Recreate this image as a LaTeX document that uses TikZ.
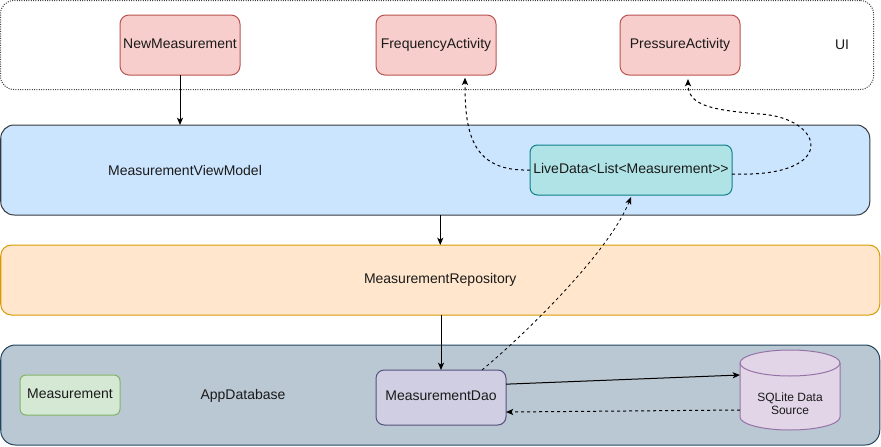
\documentclass[tikz,border=0pt]{standalone}
\usepackage{fontspec}
\setmainfont{Liberation Sans}
\usetikzlibrary{arrows.meta,calc}
\definecolor{redF}{HTML}{F8CECC}\definecolor{redS}{HTML}{B85450}
\definecolor{blueF}{HTML}{CCE5FF}\definecolor{blueS}{HTML}{36393D}
\definecolor{tealF}{HTML}{B0E3E6}\definecolor{tealS}{HTML}{0E8088}
\definecolor{orangeF}{HTML}{FFE6CC}\definecolor{orangeS}{HTML}{D79B00}
\definecolor{slateF}{HTML}{BAC8D3}\definecolor{slateS}{HTML}{23445D}
\definecolor{greenF}{HTML}{D5E8D4}\definecolor{greenS}{HTML}{82B366}
\definecolor{purpleF}{HTML}{D0CEE2}\definecolor{purpleS}{HTML}{56517E}
\definecolor{lilacF}{HTML}{E1D5E7}\definecolor{lilacS}{HTML}{9673A6}
\definecolor{txt}{HTML}{1A1A1A}
\tikzset{
  box/.style={rectangle, line width=0.75pt, inner sep=0pt, outer sep=0pt, text=txt,
    text height=7.6pt, text depth=2.4pt,
    font=\fontsize{10.5pt}{12.6pt}\selectfont},
  lbl/.style={inner sep=0pt, text=txt, text height=7.6pt, text depth=2.4pt,
    font=\fontsize{10.5pt}{12.6pt}\selectfont},
  multilbl/.style={inner sep=0pt, text=txt, align=center, font=\fontsize{9pt}{10pt}\selectfont},
  tip/.style={-{Stealth[length=5.5pt,width=4.6pt,inset=1.4pt]}},
  solidcon/.style={tip, line width=0.75pt, black},
  dashcon/.style={tip, line width=0.75pt, black, dash pattern=on 2.25pt off 2.25pt},
}
\begin{document}
\begin{tikzpicture}[x=0.75pt,y=-0.75pt]
\useasboundingbox (0,0) rectangle (881,446);
% containers
\node[box, draw=black!75, fill=white, densely dotted, rounded corners=10pt,
  minimum width=654.75pt, minimum height=66.75pt] (ui) at (437,45) {};
\node[lbl] (uilbl) at (842,46) {UI};
\node[box, draw=blueS, fill=blueF, rounded corners=10pt,
  minimum width=651.75pt, minimum height=67.5pt] (vm) at (435.25,170) {};
\node[lbl] (vmlbl) at (185,172) {MeasurementViewModel};
\node[box, draw=orangeS, fill=orangeF, rounded corners=8pt,
  minimum width=659.25pt, minimum height=52.5pt] (repo) at (440.25,280) {MeasurementRepository};
\node[box, draw=slateS, fill=slateF, rounded corners=11pt,
  minimum width=659.25pt, minimum height=75pt] (db) at (440.25,395) {};
\node[lbl] (dblbl) at (243,396) {AppDatabase};
% inner boxes
\node[box, draw=redS, fill=redF, rounded corners=6.75pt,
  minimum width=90pt, minimum height=45pt] (newm) at (180,45) {NewMeasurement};
\node[box, draw=redS, fill=redF, rounded corners=6.75pt,
  minimum width=90pt, minimum height=45pt] (freq) at (436,45) {FrequencyActivity};
\node[box, draw=redS, fill=redF, rounded corners=6.75pt,
  minimum width=90pt, minimum height=45pt] (press) at (680,45) {PressureActivity};
\node[box, draw=tealS, fill=tealF, rounded corners=5.6pt,
  minimum width=151.5pt, minimum height=37.5pt] (live) at (631,170) {LiveData<{}List<{}Measurement>{}>};
\node[box, draw=greenS, fill=greenF, rounded corners=4.5pt,
  minimum width=75pt, minimum height=30pt] (meas) at (70,395) {Measurement};
\node[box, draw=purpleS, fill=purpleF, rounded corners=6.2pt,
  minimum width=97.5pt, minimum height=41.25pt] (dao) at (441,397.5) {MeasurementDao};
% cylinder
\node[box, minimum width=75pt, minimum height=60pt] (sql) at (790,390) {};
\fill[lilacF] ([yshift=-9.75pt]sql.north west) -- ([yshift=9.75pt]sql.south west)
   arc[start angle=180, end angle=360, x radius=37.5pt, y radius=9.75pt]
   -- ([yshift=-9.75pt]sql.north east)
   arc[start angle=0, end angle=180, x radius=37.5pt, y radius=9.75pt] -- cycle;
\draw[lilacS, line width=0.75pt] ([yshift=-9.75pt]sql.north west) -- ([yshift=9.75pt]sql.south west)
   arc[start angle=180, end angle=360, x radius=37.5pt, y radius=9.75pt]
   -- ([yshift=-9.75pt]sql.north east);
\draw[lilacS, line width=0.75pt] ([yshift=-9.75pt]sql.north) ellipse[x radius=37.5pt, y radius=9.75pt];
\node[multilbl] (sqltxt) at ([yshift=-10.5pt]sql.center) {SQLite Data\\Source};
% connectors
\draw[solidcon] (newm.south) -- (newm.south |- vm.north);
\draw[solidcon] (vm.south -| repo.north) -- (repo.north);
\draw[solidcon] (repo.south -| dao.north) -- (dao.north);
\draw[solidcon] ([yshift=10pt]dao.east) -- ([yshift=11.25pt]sql.west);
\draw[dashcon] ([yshift=-15pt]sql.west) -- ([yshift=-10.9pt]dao.east);
\draw[dashcon, line width=0.6pt] ([xshift=30.75pt]dao.north) .. controls (530,330) and (610,250) .. ([yshift=-1.5pt]live.south);
\draw[dashcon] (live.west) .. controls (470,172) and (465,130) .. ([xshift=21.75pt,yshift=-2pt]freq.south);
\coordinate (loop) at (760,114);
\draw[dashcon] ([yshift=-3pt]live.east) .. controls (840,178) and (825,118) .. (loop)
   .. controls (710,110) and (688,105) .. ([xshift=6pt,yshift=-3pt]press.south);
\end{tikzpicture}
\end{document}
